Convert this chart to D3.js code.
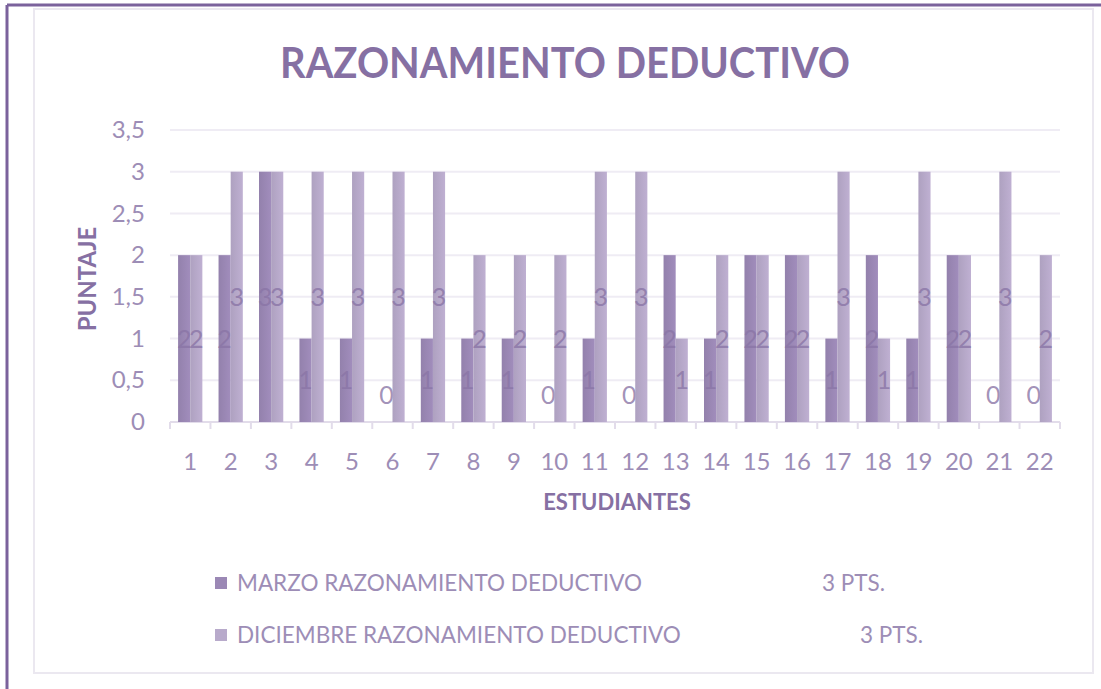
<!DOCTYPE html>
<html>
<head>
<meta charset="utf-8">
<script src="https://cdn.jsdelivr.net/npm/d3@7"></script>
<style>
  body { margin: 0; background: #fff; }
  svg { display: block; font-family: Lato, "Open Sans", sans-serif; }
</style>
</head>
<body>
<svg id="chart" width="1101" height="689"></svg>
<script>
// data
var students = ["1","2","3","4","5","6","7","8","9","10","11","12","13","14","15","16","17","18","19","20","21","22"];
var marzo     = [2,2,3,1,1,0,1,1,1,0,1,0,2,1,2,2,1,2,1,2,0,0];
var diciembre = [2,3,3,3,3,3,3,2,2,2,3,3,1,2,2,2,3,1,3,2,3,2];
var seriesNames = ["MARZO RAZONAMIENTO DEDUCTIVO", "DICIEMBRE RAZONAMIENTO DEDUCTIVO"];
var seriesSuffix = ["3 PTS.", "3 PTS."];
var yTicks = [0, 0.5, 1, 1.5, 2, 2.5, 3, 3.5];

var svg = d3.select("#chart");
var colors = ["#9b88b5", "#b8aacb"];
var textCol = "#9d8db6";

// frames
svg.append("rect").attr("x", 34).attr("y", 9).attr("width", 1059).attr("height", 664)
   .attr("fill", "#fff").attr("stroke", "#ebe8f0").attr("stroke-width", 2);
svg.append("line").attr("x1", 7).attr("y1", 5).attr("x2", 1101).attr("y2", 5)
   .attr("stroke", "#7b629c").attr("stroke-width", 3);
svg.append("line").attr("x1", 7).attr("y1", 5).attr("x2", 7).attr("y2", 689)
   .attr("stroke", "#7b629c").attr("stroke-width", 3);

// gradients for bars
var defs = svg.append("defs");
colors.forEach(function(c, i){
	var g = defs.append("linearGradient").attr("id", "grad" + i)
		.attr("x1", 0).attr("y1", 0).attr("x2", 1).attr("y2", 0);
	g.append("stop").attr("offset", "0%").attr("stop-color", d3.color(c).darker(0.15));
	g.append("stop").attr("offset", "100%").attr("stop-color", d3.color(c).brighter(0.1));
});

var x0 = d3.scaleBand().domain(students).range([170, 1060]).paddingInner(0.4).paddingOuter(0.2);
var x1 = d3.scaleBand().domain([0, 1]).range([0, x0.bandwidth()]);
var y = d3.scaleLinear().domain([0, 3.5]).range([422, 130]);

// gridlines
svg.append("g").selectAll("line").data(yTicks.slice(1)).join("line")
   .attr("x1", 170).attr("x2", 1060)
   .attr("y1", function(d){ return y(d); }).attr("y2", function(d){ return y(d); })
   .attr("stroke", "#efecf4").attr("stroke-width", 2);

// y axis
var yAxis = svg.append("g").attr("transform", "translate(158,0)")
   .call(d3.axisLeft(y).tickValues(yTicks).tickSize(0).tickPadding(0)
        .tickFormat(function(d){ return String(d).replace(".", ","); }));
yAxis.select(".domain").remove();
yAxis.selectAll("text").attr("x", -13).attr("fill", textCol)
   .style("font-size", "24px").style("font-family", "Lato");

// x axis
var band = (1060 - 170) / students.length;
var xAxis = svg.append("g").attr("transform", "translate(0,422)");
xAxis.append("line").attr("x1", 170).attr("x2", 1060).attr("stroke", "#e2dcea").attr("stroke-width", 2);
xAxis.selectAll("line.tk").data(d3.range(students.length + 1)).join("line").attr("class", "tk")
   .attr("x1", function(i){ return 170 + i * band; }).attr("x2", function(i){ return 170 + i * band; })
   .attr("y1", 0).attr("y2", 7).attr("stroke", "#e2dcea").attr("stroke-width", 2);
xAxis.selectAll("text").data(students).join("text")
   .attr("x", function(d){ return x0(d) + x0.bandwidth() / 2; })
   .attr("y", 48).attr("text-anchor", "middle").attr("fill", textCol)
   .style("font-size", "24px").text(function(d){ return d; });

// bars
var groups = svg.append("g").selectAll("g").data(students).join("g")
   .attr("transform", function(d){ return "translate(" + x0(d) + ",0)"; });
var cell = groups.selectAll("g").data(function(d, i){
	return [{s: 0, v: marzo[i]}, {s: 1, v: diciembre[i]}];
}).join("g");
cell.append("rect")
   .attr("x", function(d){ return x1(d.s); })
   .attr("width", x1.bandwidth())
   .attr("y", function(d){ return y(d.v); })
   .attr("height", function(d){ return y(0) - y(d.v); })
   .attr("fill", function(d){ return "url(#grad" + d.s + ")"; });
cell.append("text")
   .attr("x", function(d){ return x1(d.s) + x1.bandwidth() / 2; })
   .attr("y", function(d){ return d.v === 0 ? y(0) - 27 : (y(d.v) + y(0)) / 2; })
   .attr("dy", "0.36em").attr("text-anchor", "middle")
   .attr("fill", "#8a75a6").attr("fill-opacity", 0.8)
   .style("font-size", "25px").text(function(d){ return d.v; });

// titles
svg.append("text").attr("x", 565).attr("y", 78).attr("text-anchor", "middle")
   .attr("fill", "#8670a3").style("font-size", "42px").style("font-weight", "bold")
   .attr("textLength", 570).attr("lengthAdjust", "spacingAndGlyphs")
   .text("RAZONAMIENTO DEDUCTIVO");
svg.append("text").attr("transform", "translate(96,279) rotate(-90)")
   .attr("text-anchor", "middle").attr("fill", "#8670a3")
   .style("font-size", "24px").style("font-weight", "bold").text("PUNTAJE");
svg.append("text").attr("x", 617).attr("y", 510).attr("text-anchor", "middle")
   .attr("fill", "#8670a3").style("font-size", "22px").style("font-weight", "bold").text("ESTUDIANTES");

// legend
var legend = svg.append("g").selectAll("g").data(seriesNames).join("g")
   .attr("transform", function(d, i){ return "translate(215," + (583 + i * 52) + ")"; });
legend.append("rect").attr("x", 0).attr("y", -6).attr("width", 12).attr("height", 12)
   .attr("fill", function(d, i){ return colors[i]; });
legend.append("text").attr("x", 22).attr("dy", "0.36em").attr("fill", textCol)
   .style("font-size", "22.5px").text(function(d){ return d; });
legend.append("text").attr("x", function(d, i){ return i === 0 ? 607 : 645; })
   .attr("dy", "0.36em").attr("fill", textCol)
   .style("font-size", "22.5px").text(function(d, i){ return seriesSuffix[i]; });
</script>
</body>
</html>
